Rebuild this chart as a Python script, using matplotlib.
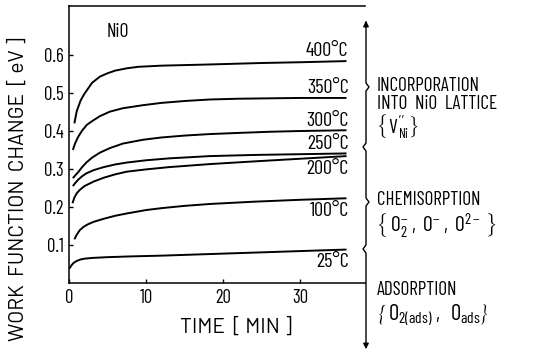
import matplotlib
matplotlib.use("Agg")
import matplotlib.pyplot as plt
from matplotlib import font_manager as fm

# ---------------- data ----------------
labels = ["400°C", "350°C", "300°C", "250°C", "200°C", "100°C", "25°C"]
t400 = [0.7, 1.0, 1.5, 2, 3, 4, 5, 6, 7.5, 9, 12, 18, 25, 30, 36]
v400 = [0.42, 0.452, 0.48, 0.498, 0.527, 0.543, 0.552, 0.559, 0.565, 0.569, 0.572, 0.575, 0.579, 0.581, 0.584]
t350 = [0.5, 0.8, 1.2, 1.7, 2.3, 3, 4, 5.3, 7, 9.6, 12, 15, 18.3, 22, 26, 30, 36]
v350 = [0.35, 0.368, 0.385, 0.401, 0.416, 0.426, 0.439, 0.451, 0.460, 0.468, 0.474, 0.479, 0.483, 0.485, 0.486, 0.487, 0.487]
t300 = [0.5, 0.8, 1.2, 1.7, 2.3, 3, 4, 5.3, 7, 9.6, 12, 15, 18.3, 22, 26, 30, 36]
v300 = [0.276, 0.283, 0.292, 0.305, 0.318, 0.330, 0.343, 0.355, 0.367, 0.377, 0.383, 0.388, 0.392, 0.395, 0.398, 0.400, 0.402]
t250 = [0.5, 0.8, 1.2, 1.7, 2.3, 3.2, 4.5, 6, 7.5, 10, 13, 18.3, 24, 30, 36]
v250 = [0.255, 0.263, 0.272, 0.281, 0.289, 0.297, 0.305, 0.312, 0.317, 0.323, 0.328, 0.334, 0.337, 0.339, 0.341]
t200 = [0.45, 0.7, 1.0, 1.4, 2, 3.2, 4.5, 6, 7.5, 10, 13, 18.3, 24, 30, 36]
v200 = [0.21, 0.225, 0.236, 0.245, 0.255, 0.267, 0.277, 0.286, 0.293, 0.299, 0.305, 0.313, 0.320, 0.327, 0.334]
t100 = [0.7, 1.0, 1.4, 1.9, 2.5, 3.2, 4.5, 6, 7.5, 10, 12, 15, 18.3, 24, 30, 36]
v100 = [0.115, 0.127, 0.139, 0.148, 0.155, 0.161, 0.169, 0.177, 0.183, 0.192, 0.197, 0.203, 0.208, 0.214, 0.219, 0.223]
t25 = [0.05, 0.3, 0.6, 1.0, 1.5, 2, 3, 5, 8, 12, 18, 24, 30, 36]
v25 = [0.038, 0.046, 0.053, 0.058, 0.062, 0.064, 0.066, 0.068, 0.070, 0.072, 0.076, 0.080, 0.084, 0.088]
label_above = [True, True, True, True, False, False, False]

xticks = [0, 10, 20, 30]
yticks = [0.1, 0.2, 0.3, 0.4, 0.5, 0.6]

# ---------------- fonts ----------------
names = {f.name for f in fm.fontManager.ttflist}


def pick(cands):
    for c in cands:
        if c in names:
            return c
    return "DejaVu Sans"


FONT = pick(["Barlow Condensed", "Asap Condensed", "Archivo Narrow"])
WIDE = pick(["Barlow", "Barlow Semi Condensed", "Open Sans"])
plt.rcParams["font.family"] = [FONT, "DejaVu Sans"]
plt.rcParams["mathtext.fontset"] = "custom"
plt.rcParams["mathtext.rm"] = FONT
plt.rcParams["mathtext.it"] = FONT
plt.rcParams["mathtext.bf"] = FONT
plt.rcParams["mathtext.sf"] = FONT

fig = plt.figure(figsize=(5.41, 3.56), dpi=100)
W, H = 541, 356
renderer = fig.canvas.get_renderer()


def fit(artist, target, along="w", maxsize=None):
    """Scale a text's font size so its extent matches a target pixel size."""
    for _ in range(3):
        bb = artist.get_window_extent(renderer)
        cur = bb.width if along == "w" else bb.height
        if cur > 0:
            fs = artist.get_fontsize() * target / cur
            if maxsize:
                fs = min(fs, maxsize)
            artist.set_fontsize(fs)
    return artist.get_fontsize()


ax = fig.add_axes([69 / W, 1 - 283 / H, (365 - 69) / W, (283 - 6) / H])

series = [(t400, v400), (t350, v350), (t300, v300), (t250, v250),
          (t200, v200), (t100, v100), (t25, v25)]
for (t, v), lab, above in zip(series, labels, label_above):
    ax.plot(t, v, color="black", lw=1.4, solid_capstyle="butt")
    ax.annotate(lab, xy=(t[-1], v[-1]), xytext=(1.5, 0.5 if above else -2.5),
                textcoords="offset points", ha="right",
                va="bottom" if above else "top", fontsize=14.5)

ax.set_xlim(0, 38.4)
ax.set_ylim(0, 0.729)
ax.set_xticks(xticks)
ax.set_xticklabels([str(x) for x in xticks])
ax.set_yticks(yticks)
ax.set_yticklabels([f"{y:.1f}" for y in yticks])
ax.tick_params(direction="in", length=3, width=1, labelsize=13.5, pad=4)
ax.spines["right"].set_visible(False)
for s in ["left", "bottom", "top"]:
    ax.spines[s].set_linewidth(1.1)

ax.text(4.9, 0.66, "NiO", fontsize=14, va="center", ha="left")
xl = ax.set_xlabel("TIME  [ MIN ]", fontsize=14, family=[WIDE, "DejaVu Sans"])
ax.xaxis.set_label_coords(0.565, -0.125)
yl = ax.set_ylabel("WORK  FUNCTION  CHANGE  [ eV ]", fontsize=13, family=[WIDE, "DejaVu Sans"])
ax.yaxis.set_label_coords(-0.1385, 0.34)
fit(xl, 112, maxsize=15)
fit(yl, 316, along="h", maxsize=15)

# ---------------- right-hand annotation (figure pixel overlay) ----------------
ov = fig.add_axes([0, 0, 1, 1], facecolor="none")
ov.set_xlim(0, W)
ov.set_ylim(H, 0)
ov.axis("off")
X = 366
px = [X, X, X + 3, X, X, X - 3, X, X, X + 3, X, X, X - 3, X, X]
py = [22, 83, 87, 91, 143, 147, 151, 198, 202, 206, 245, 249, 253, 346]
ov.plot(px, py, color="black", lw=1.0)
ov.annotate("", xy=(X, 18), xytext=(X, 30),
            arrowprops=dict(arrowstyle="-|>", color="black", lw=1.0, mutation_scale=8))
ov.annotate("", xy=(X, 352), xytext=(X, 340),
            arrowprops=dict(arrowstyle="-|>", color="black", lw=1.0, mutation_scale=8))

tx = 377
fs = 13.8
ov.text(tx, 86, "INCORPORATION", fontsize=fs, va="center", ha="left")
ov.text(tx, 104, "INTO  NiO  LATTICE", fontsize=fs, va="center", ha="left")
ov.text(tx, 200, "CHEMISORPTION", fontsize=fs, va="center", ha="left")
ov.text(tx, 290, "ADSORPTION", fontsize=fs, va="center", ha="left")

ov.text(tx - 1, 126, r"$\left\{\,\mathrm{V}^{\prime\prime}_{\mathrm{Ni}}\right\}$",
        fontsize=14.5, va="center", ha="left")
ov.text(tx - 1, 226, r"$\left\{\;\mathrm{O}_2^{-}\;,\;\mathrm{O}^{-}\;,\;\mathrm{O}^{2-}\;\right\}$",
        fontsize=15.5, va="center", ha="left")
ov.text(tx - 1, 316, r"$\left\{\;\mathrm{O}_{2(\mathrm{ads})}\;,\;\;\mathrm{O}_{\mathrm{ads}}\right\}$",
        fontsize=16, va="center", ha="left")

fig.savefig("out.png", dpi=100)
